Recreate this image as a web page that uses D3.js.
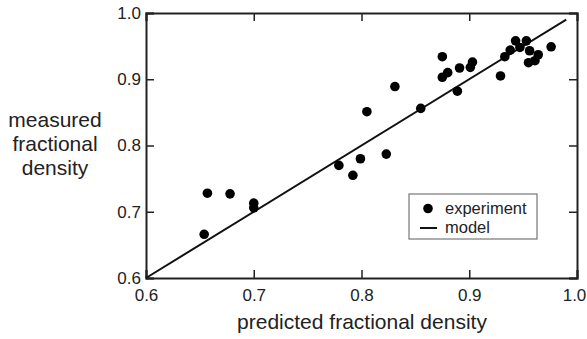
<!DOCTYPE html>
<html>
<head>
<meta charset="utf-8">
<script src="https://cdn.jsdelivr.net/npm/d3@7"></script>
<style>
  body { margin: 0; background: #fff; }
  text { font-family: "Liberation Sans", Arial, sans-serif; fill: #222; }
</style>
</head>
<body>
<div id="chart"></div>
<script>
// experiment points (predicted, measured)
var predicted = [0.654, 0.657, 0.678, 0.700, 0.700, 0.779, 0.792, 0.799, 0.805, 0.823,
                 0.831, 0.855, 0.875, 0.875, 0.880, 0.889, 0.891, 0.901, 0.903, 0.929,
                 0.933, 0.938, 0.943, 0.947, 0.953, 0.956, 0.955, 0.961, 0.964, 0.976];
var measured  = [0.666, 0.728, 0.727, 0.713, 0.706, 0.770, 0.755, 0.780, 0.851, 0.787,
                 0.889, 0.856, 0.934, 0.903, 0.910, 0.882, 0.917, 0.918, 0.926, 0.905,
                 0.934, 0.944, 0.958, 0.948, 0.958, 0.943, 0.925, 0.928, 0.937, 0.949];
var modelX = [0.6, 0.99];
var modelY = [0.6, 0.99];
var tickVals = [0.6, 0.7, 0.8, 0.9, 1.0];

var width = 587, height = 339;
var mLeft = 146, mRight = 577, mTop = 13, mBottom = 278;

var x = d3.scaleLinear().domain([0.6, 1.0]).range([mLeft, mRight]);
var y = d3.scaleLinear().domain([0.6, 1.0]).range([mBottom, mTop]);

var svg = d3.select("#chart").append("svg")
    .attr("width", width)
    .attr("height", height);

var fmt = d3.format(".1f");

// axes with inward ticks on all four sides
var xAxis = svg.append("g").attr("transform", "translate(0," + mBottom + ")")
    .call(d3.axisBottom(x).tickValues(tickVals).tickSize(-8).tickPadding(11).tickFormat(fmt));
var xTop = svg.append("g").attr("transform", "translate(0," + mTop + ")")
    .call(d3.axisTop(x).tickValues(tickVals).tickSize(-8).tickFormat(""));
var yAxis = svg.append("g").attr("transform", "translate(" + mLeft + ",0)")
    .call(d3.axisLeft(y).tickValues(tickVals).tickSize(-8).tickPadding(5).tickFormat(fmt));
var yRight = svg.append("g").attr("transform", "translate(" + mRight + ",0)")
    .call(d3.axisRight(y).tickValues(tickVals).tickSize(-8).tickFormat(""));

[xAxis, xTop, yAxis, yRight].forEach(function(g) {
  g.select(".domain").attr("stroke", "#222").attr("stroke-width", 2);
  g.selectAll(".tick line").attr("stroke", "#222").attr("stroke-width", 1.5);
  g.selectAll(".tick text").attr("font-size", 17).attr("fill", "#333")
    .attr("font-family", "'Liberation Sans', Arial, sans-serif");
});
// left labels sit outside the frame, beyond the inward ticks
yAxis.selectAll(".tick text").attr("x", -5);
xAxis.selectAll(".tick text").attr("y", 11)
    .attr("dx", function(d) { return d === 1.0 ? -3 : 0; });

// model line
svg.append("line")
    .attr("x1", x(modelX[0])).attr("y1", y(modelY[0]))
    .attr("x2", x(modelX[1])).attr("y2", y(modelY[1]))
    .attr("stroke", "#111").attr("stroke-width", 2);

// experiment dots
svg.selectAll(".dot").data(predicted).enter().append("circle")
    .attr("class", "dot")
    .attr("cx", function(d) { return x(d); })
    .attr("cy", function(d, i) { return y(measured[i]); })
    .attr("r", 4.8)
    .attr("fill", "#000");

// axis titles
svg.append("text")
    .attr("x", 362).attr("y", 329)
    .attr("text-anchor", "middle").attr("font-size", 21)
    .text("predicted fractional density");

var ylab = ["measured", "fractional", "density"];
svg.selectAll(".ylab").data(ylab).enter().append("text")
    .attr("class", "ylab")
    .attr("x", 55).attr("y", function(d, i) { return 127 + i * 24; })
    .attr("text-anchor", "middle").attr("font-size", 21)
    .text(function(d) { return d; });

// legend
var lg = svg.append("g");
lg.append("rect").attr("x", 409).attr("y", 194).attr("width", 128).attr("height", 45)
    .attr("fill", "#fff").attr("stroke", "#777").attr("stroke-width", 1.2);
lg.append("circle").attr("cx", 428).attr("cy", 208.5).attr("r", 4.8).attr("fill", "#000");
lg.append("line").attr("x1", 420).attr("x2", 437).attr("y1", 228).attr("y2", 228)
    .attr("stroke", "#111").attr("stroke-width", 2);
lg.append("text").attr("x", 445).attr("y", 214).attr("font-size", 16.5).text("experiment");
lg.append("text").attr("x", 445).attr("y", 233).attr("font-size", 16.5).text("model");
</script>
</body>
</html>
